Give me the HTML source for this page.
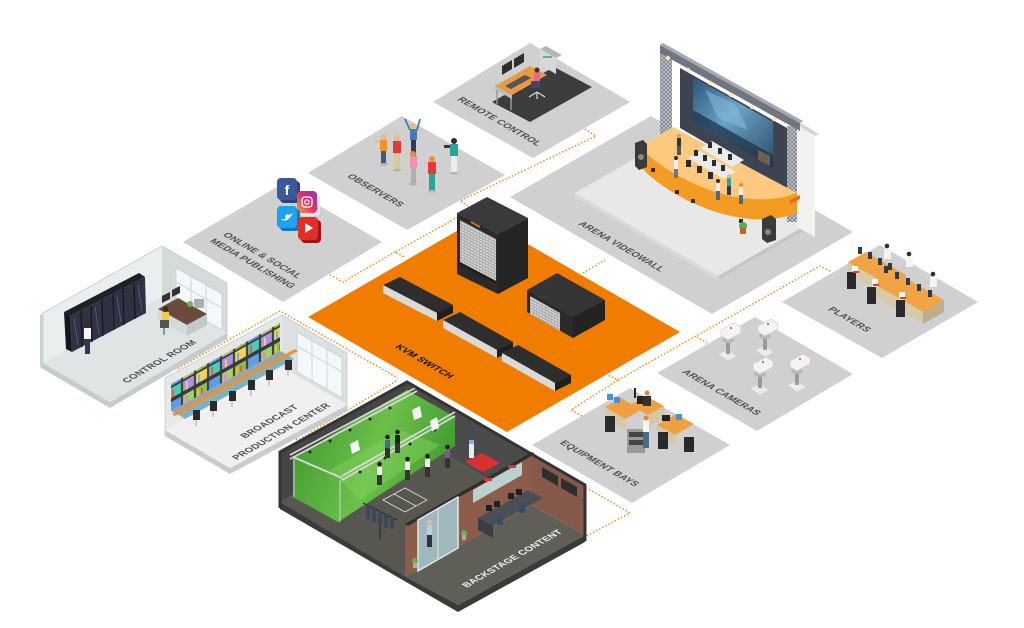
<!DOCTYPE html>
<html><head><meta charset="utf-8">
<style>
html,body{margin:0;padding:0;background:#fff;width:1024px;height:628px;overflow:hidden}
svg{display:block}
.lb{font-family:"Liberation Sans",Arial,sans-serif;font-weight:bold;font-size:9.5px;fill:#4f4f4f;text-anchor:middle;letter-spacing:0.2px}
</style></head><body>
<svg width="1024" height="628" viewBox="0 0 1024 628" xmlns="http://www.w3.org/2000/svg">
<defs>
 <pattern id="mon" width="39" height="26" patternUnits="userSpaceOnUse" patternTransform="matrix(1,-0.56,0,1,0,3)">
  <rect width="39" height="26" fill="#3a3a3a"/>
  <rect x="1" y="1" width="11" height="10" fill="#8cc152"/>
  <rect x="2" y="3" width="2" height="7" fill="#f6bb42"/>
  <rect x="6" y="4" width="2" height="6" fill="#e9573f"/>
  <rect x="14" y="1" width="11" height="10" fill="#5d9cec"/>
  <rect x="27" y="1" width="11" height="10" fill="#a0d468"/>
  <rect x="29" y="3" width="3" height="7" fill="#ec87c0"/>
  <rect x="1" y="13" width="11" height="10" fill="#ffce54"/>
  <rect x="3" y="15" width="2" height="8" fill="#4fc1e9"/>
  <rect x="14" y="13" width="11" height="10" fill="#48cfad"/>
  <rect x="16" y="15" width="2" height="8" fill="#ed5565"/>
  <rect x="27" y="13" width="11" height="10" fill="#ac92ec"/>
  <rect x="30" y="15" width="2" height="8" fill="#ffce54"/>
 </pattern>
 <pattern id="lat" width="4" height="4" patternUnits="userSpaceOnUse">
  <rect width="4" height="4" fill="#7f8590"/>
  <path d="M0,0L4,4M4,0L0,4" stroke="#c9ccd2" stroke-width="0.7"/>
 </pattern>
 <pattern id="slots" width="3" height="3" patternUnits="userSpaceOnUse" patternTransform="matrix(1,0.52,0,1,0,0)">
  <rect width="3" height="3" fill="#d8d8d8"/><rect y="2" width="3" height="0.8" fill="#8e8e8e"/><rect x="2" width="0.6" height="3" fill="#a0a0a0"/>
 </pattern>
 <linearGradient id="grn" x1="0" y1="0" x2="1" y2="0.3">
  <stop offset="0" stop-color="#3c962c"/><stop offset="0.6" stop-color="#6cc04a"/><stop offset="1" stop-color="#47a034"/>
 </linearGradient>
 <linearGradient id="ig" x1="0" y1="1" x2="1" y2="0">
  <stop offset="0" stop-color="#f9a03f"/><stop offset="0.5" stop-color="#e1306c"/><stop offset="1" stop-color="#833ab4"/>
 </linearGradient>
 <linearGradient id="scr" x1="0" y1="0" x2="1" y2="1">
  <stop offset="0" stop-color="#2c5478"/><stop offset="0.45" stop-color="#6aa2c8"/><stop offset="1" stop-color="#2d4a66"/>
 </linearGradient>
</defs>

<!-- ===== floor tiles ===== -->
<g fill="#d0d0d0">
 <polygon points="433,102 530,43 630,102 533,158"/>
 <polygon points="308,173 402,116 505,175 407,230"/>
 <polygon points="183,242 282,184 382,242 283,302"/>
 <polygon points="510,197 651,116 853,232 712,314"/>
 <polygon points="782,302 880,245 978,302 882,358"/>
 <polygon points="657,373 755,317 853,374 757,431"/>
 <polygon points="532,445 630,388 730,445 632,503"/>
</g>
<polygon fill="#f07d00" points="308,317 481,217 680,332 507,432"/>

<!-- ===== dotted connectors ===== -->
<g fill="none" stroke="#f08a1a" stroke-width="1.5" stroke-dasharray="1.5 2">
 <polyline points="585,129 596,136 460,201 470,207"/>
 <polyline points="458,217 395,252 404,257"/>
 <polyline points="330,275 343,282 395,252"/>
 <polyline points="172,366 177,369 280,311 398,378"/>
 <polyline points="293,437 298,440 398,380"/>
 <polyline points="528,567 630,513 587,488"/>
 <polyline points="583,273 605,260"/>
 <polyline points="830,271 820,266 618,380 608,375"/>
 <polyline points="697,337 707,343"/>
 <polyline points="582,416 571,410 618,380"/>
</g>

<!-- ===== remote control ===== -->
<polygon fill="#3c3c3c" points="492,102 554,67 592,87 530,122"/>
<polygon fill="#e89a45" points="495,86 530,66 547,75 512,95"/>
<polygon fill="#bdbdbd" points="495,86 512,95 512,99 495,90"/>
<line x1="497" y1="90" x2="497" y2="104" stroke="#999" stroke-width="1.5"/>
<line x1="511" y1="98" x2="511" y2="110" stroke="#999" stroke-width="1.5"/>
<polygon fill="#2e2e2e" points="502,75 512,69 512,60 502,66"/>
<polygon fill="#2e2e2e" points="514,68 524,62 524,53 514,59"/>
<polygon fill="#555" points="505,86 525,75 531,78 511,89"/>
<polygon fill="#d8d8d8" points="540,49 556,58 556,74 540,65"/>
<polygon fill="#b5b5b5" points="540,49 546,46 562,55 556,58"/>
<rect x="543" y="56" width="9" height="2" fill="#6a9"/>
<rect x="534" y="72" width="6" height="9" fill="#e66a8a"/>
<circle cx="537" cy="70" r="2.5" fill="#4a2c20"/>
<rect x="531" y="81" width="9" height="7" fill="#3b4a6a"/>
<g stroke="#e0e0e0" stroke-width="1.2"><line x1="537" y1="92" x2="529" y2="97"/><line x1="537" y1="92" x2="545" y2="97"/><line x1="537" y1="92" x2="537" y2="99"/></g>

<!-- ===== observers ===== -->
<g>
 <g fill="#b3b3b3">
  <ellipse cx="384" cy="164" rx="4" ry="1.6"/><ellipse cx="397" cy="170" rx="4" ry="1.6"/>
  <ellipse cx="414" cy="157" rx="4" ry="1.6"/><ellipse cx="413" cy="184" rx="4" ry="1.6"/>
  <ellipse cx="432" cy="191" rx="4" ry="1.6"/><ellipse cx="454" cy="173" rx="4" ry="1.6"/>
 </g>
 <rect x="381" y="151" width="5" height="12" fill="#3d5a80"/><rect x="380" y="140" width="7" height="11" fill="#f0932b"/><circle cx="384" cy="137" r="3" fill="#e8b98a"/><line x1="380" y1="142" x2="374" y2="141" stroke="#e8b98a" stroke-width="1.5"/>
 <rect x="394" y="153" width="6" height="16" fill="#d9c89a"/><rect x="393" y="141" width="8" height="12" fill="#e53935"/><circle cx="397" cy="138" r="3" fill="#e8b98a"/>
 <rect x="411" y="140" width="5" height="16" fill="#2e3b55"/><rect x="410" y="129" width="7" height="11" fill="#3f7cb8"/><circle cx="413" cy="126" r="3" fill="#e8b98a"/>
 <line x1="410" y1="130" x2="405" y2="119" stroke="#3f7cb8" stroke-width="1.8"/><line x1="417" y1="130" x2="420" y2="119" stroke="#3f7cb8" stroke-width="1.8"/>
 <rect x="411" y="168" width="5" height="15" fill="#b0b0b0"/><rect x="410" y="157" width="7" height="11" fill="#f48fb1"/><circle cx="413" cy="154" r="3" fill="#f08a3a"/>
 <rect x="429" y="174" width="6" height="16" fill="#26a69a"/><rect x="428" y="162" width="8" height="12" fill="#e53935"/><circle cx="432" cy="159" r="3" fill="#f08a3a"/>
 <rect x="451" y="156" width="6" height="16" fill="#ececec"/><rect x="450" y="144" width="8" height="12" fill="#26a69a"/><circle cx="454" cy="141" r="3" fill="#3a2a20"/><rect x="444" y="145" width="6" height="3" fill="#333"/>
</g>

<!-- ===== social icons ===== -->
<g>
 <rect x="280" y="181" width="20" height="22" rx="4" fill="#2d4373"/>
 <rect x="277" y="178" width="20" height="22" rx="4" fill="#3b5998"/>
 <text x="287" y="195" font-family="Liberation Sans,sans-serif" font-weight="bold" font-size="14" fill="#fff" text-anchor="middle">f</text>
 <rect x="300" y="194" width="20" height="22" rx="4" fill="#e6e6e6"/>
 <rect x="297" y="191" width="20" height="22" rx="4" fill="url(#ig)"/>
 <rect x="302" y="197" width="10" height="10" rx="3" fill="none" stroke="#fff" stroke-width="1.3"/><circle cx="307" cy="202" r="2.2" fill="none" stroke="#fff" stroke-width="1.2"/>
 <rect x="280" y="209" width="20" height="22" rx="4" fill="#1479b8"/>
 <rect x="277" y="206" width="20" height="22" rx="4" fill="#1da1f2"/>
 <path d="M281,219 Q287,224 293,213 Q289,216 287,214 Q284,216 286,219 Q283,219 281,219Z" fill="#fff"/>
 <rect x="301" y="220" width="20" height="23" rx="4" fill="#a11510"/>
 <rect x="298" y="217" width="20" height="23" rx="4" fill="#e52d27"/>
 <polygon points="305,223 313,228 305,233" fill="#fff"/>
</g>

<!-- ===== arena videowall ===== -->
<polygon fill="#e8e8e8" points="575,193 672,137 815,220 718,276"/>
<polygon fill="#dadada" points="575,193 718,276 718,280 575,197"/>
<polygon fill="#c6c6c6" points="718,276 815,220 815,224 718,280"/>
<polygon fill="#f2f2f2" points="797,125 815,136 815,237 797,227"/>
<polygon fill="#d6d6d6" points="797,125 801,123 819,134 815,136"/>
<polygon fill="#3d4351" points="680,68 787,128 787,190 680,128"/>
<polygon fill="url(#scr)" points="693,77 773,122 773,168 693,123"/>
<polygon fill="#1f3145" opacity="0.75" points="693,110 773,155 773,168 693,123"/>
<polygon fill="#8cc0de" opacity="0.5" points="705,90 735,104 748,130 718,118"/>
<polygon fill="#9a7a4a" opacity="0.6" points="758,150 770,156 770,166 758,160"/>
<rect x="660" y="50" width="12" height="84" fill="url(#lat)"/>
<rect x="787" y="126" width="10" height="96" fill="url(#lat)"/>
<polygon fill="#6f7581" points="660,45 800,123 800,131 660,53"/>
<polygon fill="#a4a9b2" points="660,45 663,43 803,121 800,123"/>
<g fill="#fbeaa6"><circle cx="668" cy="58" r="2.2"/><circle cx="688" cy="70" r="2.2"/><circle cx="710" cy="83" r="2.2"/><circle cx="731" cy="95" r="2.2"/><circle cx="752" cy="107" r="2.2"/><circle cx="774" cy="119" r="2.2"/></g>
<path fill="#fdc97e" d="M640,147 L673,127 L797,193 C740,215 665,175 640,147Z"/>
<path fill="#f39c21" d="M640,147 C665,175 740,215 797,193 L797,213 C740,235 665,195 640,166Z"/>
<g fill="#2e2e2e"><rect x="651" y="168" width="4" height="4"/><rect x="675" y="190" width="4" height="4"/><rect x="691" y="199" width="4" height="4"/><rect x="739" y="219" width="4" height="4"/></g>
<polygon fill="#e86d10" points="790,200 800,195 800,199 790,204"/>
<polygon fill="#ebebeb" points="688,158 700,151 736,172 724,179"/>
<polygon fill="#ebebeb" points="700,148 712,141 744,160 732,167"/>
<g fill="#2b2b2b"><rect x="694" y="150" width="4" height="6"/><rect x="703" y="155" width="4" height="6"/><rect x="712" y="160" width="4" height="6"/><rect x="721" y="165" width="4" height="6"/><rect x="708" y="142" width="4" height="6"/><rect x="718" y="148" width="4" height="6"/><rect x="728" y="154" width="4" height="6"/>
 <rect x="686" y="160" width="5" height="7"/><rect x="697" y="166" width="5" height="7"/><rect x="708" y="172" width="5" height="7"/></g>
<g><rect x="677" y="138" width="4" height="8" fill="#333"/><rect x="677" y="146" width="4" height="9" fill="#555"/><circle cx="679" cy="136" r="2" fill="#d9a066"/>
 <rect x="674" y="160" width="4" height="9" fill="#f0f0f0"/><rect x="674" y="169" width="4" height="9" fill="#777"/><circle cx="676" cy="158" r="2" fill="#3a2a20"/>
 <rect x="716" y="183" width="4" height="8" fill="#f0f0f0"/><rect x="716" y="191" width="4" height="9" fill="#4a6a8a"/><circle cx="718" cy="181" r="2" fill="#3a2a20"/>
 <rect x="727" y="178" width="4" height="8" fill="#26a69a"/><rect x="727" y="186" width="4" height="9" fill="#2e3b55"/><circle cx="729" cy="176" r="2" fill="#e8b98a"/>
 <rect x="739" y="187" width="4" height="8" fill="#f0f0f0"/><rect x="739" y="195" width="4" height="9" fill="#4a6a8a"/><circle cx="741" cy="185" r="2" fill="#f08a3a"/></g>
<polygon fill="#3b3b3b" points="635,143 643,140 647,144 647,167 639,170 635,166"/>
<circle cx="641" cy="157" r="3" fill="#888"/>
<polygon fill="#3b3b3b" points="762,219 771,215 776,219 776,240 767,243 762,239"/>
<circle cx="768" cy="232" r="3" fill="#888"/>
<circle cx="743" cy="226" r="4" fill="#4caf50"/><rect x="740" y="228" width="6" height="6" fill="#c0622f"/>

<!-- ===== players ===== -->
<g>
 <polygon fill="#f2a343" points="848,262 866,252 906,275 888,285"/>
 <polygon fill="#d8c9a8" points="848,262 888,285 888,297 848,274"/>
 <polygon fill="#bfae8c" points="888,285 906,275 906,287 888,297"/>
 <polygon fill="#f2a343" points="872,283 893,271 944,300 923,312"/>
 <polygon fill="#d8c9a8" points="872,283 923,312 923,324 872,295"/>
 <polygon fill="#bfae8c" points="923,312 944,300 944,312 923,324"/>
 <g fill="#2d3a4a"><rect x="858" y="247" width="4" height="7"/><rect x="868" y="252" width="4" height="7"/><rect x="878" y="258" width="4" height="7"/><rect x="888" y="263" width="4" height="7"/>
 <rect x="884" y="266" width="4" height="7"/><rect x="895" y="272" width="4" height="7"/><rect x="906" y="278" width="4" height="7"/><rect x="917" y="284" width="4" height="7"/><rect x="928" y="290" width="4" height="7"/></g>
 <g fill="#f4f4f4"><rect x="884" y="249" width="7" height="10"/><rect x="906" y="257" width="7" height="10"/><rect x="930" y="277" width="7" height="10"/><rect x="852" y="266" width="6" height="8"/><rect x="872" y="279" width="6" height="8"/><rect x="899" y="292" width="6" height="8"/></g>
 <g fill="#3a2a20"><circle cx="887" cy="246" r="2.3"/><circle cx="909" cy="254" r="2.3"/><circle cx="933" cy="274" r="2.3"/></g>
 <g fill="#2a2a2a"><rect x="847" y="272" width="9" height="17"/><rect x="867" y="287" width="9" height="17"/><rect x="896" y="300" width="9" height="17"/></g>
 <rect x="853" y="271" width="6" height="2" fill="#e53935"/><rect x="873" y="284" width="6" height="2" fill="#e53935"/><rect x="900" y="297" width="6" height="2" fill="#e53935"/>
</g>

<!-- ===== arena cameras ===== -->
<g>
 <g fill="#ececec" stroke="#cfcfcf" stroke-width="0.6">
  <polygon points="718,354 728,350 737,356 728,361"/><polygon points="755,350 765,346 774,352 765,357"/>
  <polygon points="750,388 760,384 769,390 760,395"/><polygon points="787,385 797,381 806,387 797,392"/>
 </g>
 <g fill="#9a9a9a"><rect x="726" y="336" width="4" height="18"/><rect x="763" y="332" width="4" height="18"/><rect x="758" y="370" width="4" height="18"/><rect x="795" y="367" width="4" height="18"/></g>
 <g fill="#b8b8b8"><ellipse cx="728" cy="340" rx="6" ry="3"/><ellipse cx="765" cy="336" rx="6" ry="3"/><ellipse cx="760" cy="374" rx="6" ry="3"/><ellipse cx="797" cy="371" rx="6" ry="3"/></g>
 <g fill="#f3f3f3" stroke="#c8c8c8" stroke-width="0.6">
  <polygon points="721,330 734,323 741,327 741,333 728,340 721,336"/><polygon points="758,326 771,319 778,323 778,329 765,336 758,332"/>
  <polygon points="753,364 766,357 773,361 773,367 760,374 753,370"/><polygon points="790,361 803,354 810,358 810,364 797,371 790,367"/>
 </g>
 <g fill="#d9443a"><circle cx="731" cy="328" r="1"/><circle cx="768" cy="324" r="1"/><circle cx="763" cy="362" r="1"/><circle cx="800" cy="359" r="1"/></g>
</g>

<!-- ===== equipment bays ===== -->
<g>
 <polygon fill="#f0a040" points="605,407 621,398 641,410 625,419"/>
 <polygon fill="#d6c7a6" points="605,407 625,419 625,430 605,418"/>
 <polygon fill="#f0a040" points="630,405 646,396 664,406 648,415"/>
 <polygon fill="#d6c7a6" points="648,415 664,406 664,418 648,427"/>
 <polygon fill="#f0a040" points="657,425 676,414 694,424 675,435"/>
 <polygon fill="#d6c7a6" points="657,425 675,435 675,446 657,436"/>
 <g fill="#4a90d9"><rect x="607" y="394" width="6" height="6"/><rect x="614" y="397" width="6" height="6"/><rect x="676" y="414" width="6" height="6"/></g>
 <g fill="#222"><rect x="637" y="396" width="7" height="8"/><rect x="662" y="415" width="8" height="6"/><rect x="634" y="388" width="2" height="10"/></g>
 <rect x="643" y="396" width="8" height="10" fill="#333"/><circle cx="647" cy="393" r="2.5" fill="#e6862e"/>
 <rect x="627" y="429" width="18" height="24" fill="#9a9a9a"/><rect x="629" y="432" width="14" height="5" fill="#444"/><rect x="629" y="440" width="14" height="5" fill="#444"/>
 <rect x="643" y="420" width="6" height="12" fill="#f4f4f4"/><rect x="643" y="432" width="6" height="16" fill="#4a6a8a"/><circle cx="646" cy="418" r="2.5" fill="#e6862e"/>
 <g fill="#2a2a2a"><rect x="605" y="416" width="10" height="16"/><rect x="658" y="432" width="10" height="17"/><rect x="684" y="437" width="10" height="15"/></g>
</g>

<!-- ===== KVM equipment ===== -->
<g>
 <polygon fill="#3a3a3a" points="457,213 487,197 528,218 498,234"/>
 <polygon fill="#2a2a2a" points="457,213 498,234 498,294 457,274"/>
 <polygon fill="url(#slots)" points="460,220 496,239 496,281 460,262"/>
 <polygon fill="#1e1e1e" points="460,262 496,281 496,284 460,265"/>
 <polygon fill="#242424" points="498,234 528,218 528,278 498,294"/>
 <polygon fill="#e07a20" points="471,221 480,226 480,228 471,223"/>

 <polygon fill="#353535" points="527,290 557,273 605,300 573,317"/>
 <polygon fill="#2a2a2a" points="527,290 573,317 573,338 527,312"/>
 <polygon fill="url(#slots)" points="530,296 560,313 560,331 530,314"/>
 <polygon fill="#222" points="573,317 605,300 605,320 573,338"/>

 <polygon fill="#2e2e2e" points="383,285 400,277 453,305 437,313"/>
 <polygon fill="#d9d9d9" points="383,285 437,313 437,321 383,293"/>
 <polygon fill="#1e1e1e" points="437,313 453,305 453,313 437,321"/>
 <polygon fill="#2e2e2e" points="443,320 460,312 513,342 497,350"/>
 <polygon fill="#d9d9d9" points="443,320 497,350 497,358 443,328"/>
 <polygon fill="#1e1e1e" points="497,350 513,342 513,350 497,358"/>
 <polygon fill="#2e2e2e" points="502,353 518,345 571,375 555,383"/>
 <polygon fill="#d9d9d9" points="502,353 555,383 555,391 502,361"/>
 <polygon fill="#1e1e1e" points="555,383 571,375 571,383 555,391"/>
</g>

<!-- ===== control room ===== -->
<g>
 <polygon fill="#c5cccc" points="43,363 110,402 227,333 227,339 110,408 43,369"/>
 <polygon fill="#dfe4e4" points="43,363 162,296 227,333 110,402"/>
 <polygon fill="#eaeeee" points="43,313 162,246 162,296 43,363"/>
 <polygon fill="#d4dbdb" points="162,246 227,283 227,333 162,296"/>
 <polygon fill="#f4f8fa" stroke="#c4cfd3" stroke-width="0.8" points="176,268 222,294 222,330 176,304"/>
 <g stroke="#c4cfd3" stroke-width="0.8"><line x1="191" y1="276" x2="191" y2="313"/><line x1="206" y1="285" x2="206" y2="321"/><line x1="176" y1="282" x2="222" y2="308"/></g>
 <polyline fill="none" stroke="#c3caca" stroke-width="0.8" points="43,369 43,313 162,246 227,283 227,339"/>
 <polygon fill="#cbd2d2" points="40,315 43,313 43,369 40,367"/>
 <polygon fill="#1e2027" points="70,316 145,277 139,273 64,312"/>
 <polygon fill="#2e3242" points="70,316 145,277 146,313 72,352"/>
 <polygon fill="#15171c" points="64,312 70,316 72,352 66,349"/>
 <g stroke="#15161b" stroke-width="1.2"><line x1="81" y1="310" x2="82" y2="347"/><line x1="91" y1="305" x2="92" y2="342"/><line x1="102" y1="299" x2="103" y2="336"/><line x1="113" y1="294" x2="114" y2="330"/><line x1="123" y1="288" x2="124" y2="325"/><line x1="134" y1="283" x2="135" y2="319"/></g>
 <g stroke="#5a6a90" stroke-width="0.7"><line x1="74" y1="318" x2="78" y2="345"/><line x1="95" y1="307" x2="99" y2="334"/><line x1="117" y1="296" x2="121" y2="322"/><line x1="138" y1="285" x2="142" y2="311"/></g>
 <rect x="84" y="328" width="7" height="11" fill="#f5f5f5"/><rect x="85" y="339" width="5" height="15" fill="#2d3a4f"/><circle cx="87.5" cy="325" r="2.8" fill="#3a2a20"/>
 <polygon fill="#6a4a3a" points="158,309 178,298 207,314 187,325"/>
 <polygon fill="#d4d9d9" points="158,309 187,325 187,336 158,320"/>
 <polygon fill="#c2c9c9" points="187,325 207,314 207,325 187,336"/>
 <polygon fill="#333" points="162,303 170,299 170,292 162,296"/>
 <polygon fill="#333" points="172,297 180,293 180,286 172,290"/>
 <rect x="194" y="299" width="10" height="9" fill="#a8aeae"/><circle cx="190" cy="304" r="3" fill="#6ab04c"/>
 <rect x="162" y="312" width="7" height="9" fill="#f7c948"/><circle cx="165.5" cy="309" r="2.6" fill="#3b2a1e"/>
 <rect x="160" y="320" width="9" height="8" fill="#555"/><line x1="164" y1="328" x2="164" y2="335" stroke="#777" stroke-width="1.5"/>
</g>

<!-- ===== broadcast production center ===== -->
<g>
 <polygon fill="#c9cccc" points="165,430 230,468 347,405 347,411 230,474 165,436"/>
 <polygon fill="#f0f0f0" points="165,430 282,367 347,405 230,468"/>
 <polygon fill="#e6e8e8" points="165,378 282,315 282,367 165,430"/>
 <polygon fill="#dce0e0" points="282,315 347,353 347,405 282,367"/>
 <polygon fill="#f4f8fa" stroke="#c4cfd3" stroke-width="0.8" points="297,332 342,358 342,398 297,372"/>
 <g stroke="#c4cfd3" stroke-width="0.8"><line x1="312" y1="341" x2="312" y2="381"/><line x1="327" y1="349" x2="327" y2="389"/><line x1="297" y1="346" x2="342" y2="372"/></g>
 <polyline fill="none" stroke="#c3caca" stroke-width="0.8" points="165,436 165,378 282,315 347,353 347,411"/>
 <polygon fill="url(#mon)" points="171,384 280,323 280,351 171,411"/>
 <polygon fill="#9aa3a8" points="171,411 280,351 288,355 179,415"/>
 <polygon fill="#7fb2bf" points="179,415 288,355 294,359 185,419"/>
 <polygon fill="#e8923a" points="172,414 295,349 298,351 175,416"/>
 <g fill="#2a2a2a">
  <rect x="193" y="410" width="7" height="10"/><rect x="210" y="401" width="7" height="10"/><rect x="229" y="391" width="7" height="10"/>
  <rect x="248" y="380" width="7" height="10"/><rect x="266" y="370" width="7" height="10"/><rect x="285" y="360" width="7" height="10"/>
 </g>
 <g stroke="#b5b5b5" stroke-width="1.2">
  <line x1="196" y1="420" x2="196" y2="426"/><line x1="213" y1="411" x2="213" y2="417"/><line x1="232" y1="401" x2="232" y2="407"/>
  <line x1="251" y1="390" x2="251" y2="396"/><line x1="269" y1="380" x2="269" y2="386"/><line x1="288" y1="370" x2="288" y2="376"/>
 </g>
</g>

<!-- ===== backstage content ===== -->
<g>
 <polygon fill="#3a3a3a" points="280,502 458,605 585,535 585,542 458,612 280,509"/>
 <polygon fill="#57574f" points="280,502 407,432 532,505 405,577"/>
 <polygon fill="#5f5f58" points="405,577 532,505 585,535 458,605"/>
 <polygon fill="#454545" points="280,452 407,382 407,432 280,502"/>
 <polygon fill="#4b4b4b" points="407,382 532,455 532,505 407,432"/>
 <polygon fill="#87594a" points="532,455 585,485 585,535 532,505"/>
 <polygon fill="url(#grn)" points="293,458 407,390 455,417 455,446 338,522 293,497"/>
 <polygon fill="#7fd05c" opacity="0.5" points="330,470 400,430 440,445 360,500"/>
 <g stroke="#d8d8d8" stroke-width="1.8" fill="none">
  <line x1="290" y1="455" x2="417" y2="387"/><line x1="290" y1="459" x2="417" y2="391"/>
  <line x1="293" y1="457" x2="342" y2="478"/>
  <line x1="342" y1="476" x2="455" y2="412"/><line x1="342" y1="480" x2="455" y2="416"/>
 </g>
 <g stroke="#cfcfcf" stroke-width="1"><line x1="340" y1="480" x2="340" y2="522"/><line x1="294" y1="459" x2="294" y2="497"/></g>
 <g fill="#2a2a2a"><circle cx="310" cy="452" r="1.5"/><circle cx="330" cy="441" r="1.5"/><circle cx="350" cy="430" r="1.5"/><circle cx="370" cy="419" r="1.5"/><circle cx="390" cy="408" r="1.5"/><circle cx="360" cy="472" r="1.5"/><circle cx="385" cy="458" r="1.5"/><circle cx="410" cy="444" r="1.5"/><circle cx="435" cy="430" r="1.5"/></g>
 <polygon fill="#f5f5f5" points="350,444 358,440 360,450 352,454"/>
 <polygon fill="#f5f5f5" points="412,410 420,406 422,417 414,420"/>
 <polygon fill="#f5f5f5" points="430,421 437,417 439,428 432,431"/>
 <g stroke="#e0e0e0" stroke-width="0.8" fill="none"><polygon points="383,500 405,488 427,500 405,512"/><line x1="394" y1="494" x2="416" y2="506"/></g>
 <g>
  <rect x="385" y="440" width="5" height="8" fill="#4a6a9a"/><rect x="385" y="448" width="5" height="10" fill="#333"/><circle cx="387.5" cy="437" r="2.3" fill="#2a1a10"/>
  <rect x="395" y="435" width="5" height="8" fill="#222"/><rect x="395" y="443" width="5" height="10" fill="#333"/><circle cx="397.5" cy="432" r="2.3" fill="#2a1a10"/>
  <rect x="377" y="467" width="5" height="8" fill="#f0f0f0"/><rect x="377" y="475" width="5" height="10" fill="#333"/><circle cx="379.5" cy="464" r="2.3" fill="#2a1a10"/>
  <rect x="405" y="462" width="5" height="8" fill="#f0f0f0"/><rect x="405" y="470" width="5" height="10" fill="#333"/><circle cx="407.5" cy="459" r="2.3" fill="#2a1a10"/>
  <rect x="425" y="459" width="5" height="8" fill="#f0f0f0"/><rect x="425" y="467" width="5" height="10" fill="#333"/><circle cx="427.5" cy="456" r="2.3" fill="#2a1a10"/>
  <rect x="445" y="450" width="5" height="8" fill="#7a5a9a"/><rect x="445" y="458" width="5" height="10" fill="#333"/><circle cx="447.5" cy="447" r="2.3" fill="#2a1a10"/>
 </g>
 <polygon fill="#d93030" points="465,462 482,453 500,463 483,472"/>
 <rect x="469" y="442" width="5" height="16" fill="#e8eef0"/><rect x="469" y="440" width="5" height="4" fill="#7ab8e0"/>
 <g stroke="#2a2a2a" stroke-width="1.2"><line x1="363" y1="503" x2="397" y2="520"/><line x1="380" y1="512" x2="380" y2="540"/></g>
 <g fill="#3a4a5a"><rect x="366" y="505" width="4" height="14"/><rect x="372" y="508" width="4" height="14"/><rect x="378" y="511" width="4" height="14"/><rect x="384" y="514" width="4" height="14"/><rect x="390" y="517" width="4" height="12"/></g>
 <polygon fill="#8e5c4b" points="405,527 532,455 532,505 405,577"/>
 <polygon fill="#2e2e2e" points="405,524 532,452 535,454 408,526"/>
 <polygon fill="#9fb8bd" stroke="#e6e6e6" stroke-width="1.5" points="418,520 458,497 458,548 418,571"/>
 <line x1="438" y1="509" x2="438" y2="560" stroke="#e6e6e6" stroke-width="1"/>
 <rect x="427" y="525" width="5" height="10" fill="#b8d0e0"/><rect x="427" y="535" width="5" height="12" fill="#333"/><circle cx="429.5" cy="522" r="2.3" fill="#e0c090"/>
 <polygon fill="#bcd1cf" points="473,490 522,462 522,475 473,503"/>
 <g fill="#d9382f"><rect x="484" y="478" width="8" height="3"/><rect x="508" y="465" width="8" height="3"/></g>
 <polygon fill="#4b4f55" points="478,518 528,490 543,498 493,526"/>
 <polygon fill="#3a3d42" points="478,518 493,526 493,538 478,530"/>
 <g fill="#1f1f1f"><rect x="486" y="505" width="6" height="6"/><rect x="494" y="501" width="6" height="6"/><rect x="508" y="493" width="6" height="6"/><rect x="516" y="489" width="6" height="6"/></g>
 <g fill="#3a4a6a"><rect x="497" y="515" width="6" height="10"/><rect x="519" y="503" width="6" height="10"/></g>
 <polygon fill="#2e2e2e" points="542,467 558,476 558,486 542,477"/>
 <polygon fill="#2e2e2e" points="561,478 577,487 577,497 561,488"/>
 <circle cx="464" cy="533" r="3" fill="#6ab04c"/><rect x="462" y="535" width="4" height="5" fill="#aaa"/>
 <circle cx="415" cy="561" r="3" fill="#6ab04c"/><rect x="413" y="563" width="4" height="5" fill="#aaa"/>
 <polyline fill="none" stroke="#333" stroke-width="3" points="280,508 280,452 407,382 585,485 585,541"/>
</g>

<!-- ===== labels ===== -->
<text class="lb" transform="matrix(0.866,0.5,-0.866,0.5,497,123)">REMOTE CONTROL</text>
<text class="lb" transform="matrix(0.866,0.5,-0.866,0.5,373,192)">OBSERVERS</text>
<text class="lb" transform="matrix(0.866,0.5,-0.866,0.5,260,257)">ONLINE &amp; SOCIAL</text>
<text class="lb" transform="matrix(0.866,0.5,-0.866,0.5,250,265)">MEDIA PUBLISHING</text>
<text class="lb" transform="matrix(0.866,0.5,-0.866,0.5,619,248)">ARENA VIDEOWALL</text>
<text class="lb" transform="matrix(0.866,0.5,-0.866,0.5,847,321)">PLAYERS</text>
<text class="lb" transform="matrix(0.866,0.5,-0.866,0.5,719,394)">ARENA CAMERAS</text>
<text class="lb" transform="matrix(0.866,0.5,-0.866,0.5,597,465)">EQUIPMENT BAYS</text>
<text class="lb" style="fill:#111" transform="matrix(0.866,0.5,-0.866,0.5,422,363)">KVM SWITCH</text>
<text class="lb" transform="matrix(0.866,-0.5,0.866,0.5,162,363)">CONTROL ROOM</text>
<text class="lb" transform="matrix(0.866,-0.5,0.866,0.5,272,423)">BROADCAST</text>
<text class="lb" transform="matrix(0.866,-0.5,0.866,0.5,284,433)">PRODUCTION CENTER</text>
<text class="lb" style="fill:#f2f2f2" transform="matrix(0.866,-0.5,0.866,0.5,515,560)">BACKSTAGE CONTENT</text>
</svg>
</body></html>
